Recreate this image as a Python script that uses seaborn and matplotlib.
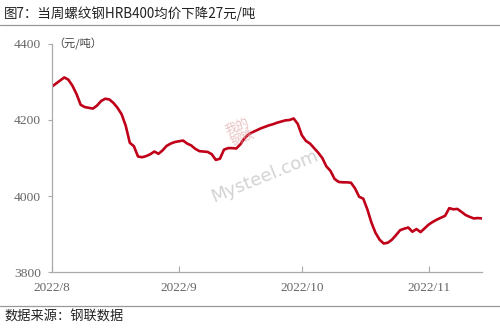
import matplotlib
matplotlib.use("Agg")
import matplotlib.pyplot as plt
import seaborn as sns
import pandas as pd

# ---- data ----
start_date = "2022-08-01"
price = [4288, 4296, 4304, 4312, 4306, 4290, 4268, 4240, 4234, 4232,
         4230, 4238, 4250, 4256, 4254, 4245, 4232, 4215, 4185, 4140,
         4131, 4104, 4102, 4105, 4110, 4117, 4111, 4120, 4132, 4138,
         4142, 4144, 4146, 4138, 4133, 4124, 4118, 4117, 4116, 4110,
         4095, 4098, 4122, 4126, 4126, 4125, 4136, 4152, 4162, 4168,
         4173, 4178, 4182, 4186, 4189, 4193, 4196, 4199, 4200, 4204,
         4190, 4160, 4145, 4138, 4126, 4114, 4100, 4078, 4066, 4045,
         4037, 4036, 4036, 4035, 4020, 3998, 3993, 3965, 3930, 3903,
         3885, 3875, 3877, 3885, 3897, 3910, 3914, 3917, 3906, 3913,
         3905, 3915, 3925, 3932, 3938, 3943, 3948, 3968, 3965, 3966,
         3958, 3950, 3945, 3941, 3942, 3941, 3940]
x_ticks = ["2022-08-01", "2022-09-01", "2022-10-01", "2022-11-01"]
x_ticklabels = ["2022/8", "2022/9", "2022/10", "2022/11"]
y_ticks = [3800, 4000, 4200, 4400]
title = "图7：当周螺纹钢HRB400均价下降27元/吨"
unit = "（元/吨）"
source = "数据来源：钢联数据"

dates = pd.date_range(start_date, periods=len(price), freq="D")
df = pd.DataFrame({"date": dates, "price": price})

sns.set_theme(style="white")
plt.rcParams["font.family"] = ["Noto Sans CJK SC", "DejaVu Sans"]

fig = plt.figure(figsize=(5, 3.32), dpi=100)
ax = fig.add_axes([0.104, 0.1807, 0.86, 0.6868])

sns.lineplot(data=df, x="date", y="price", ax=ax, color="#C00018",
             linewidth=1.9, legend=False)

ax.set_xlim(pd.Timestamp("2022-08-01"), pd.Timestamp("2022-11-14"))
ax.set_ylim(3800, 4400)
ax.set_yticks(y_ticks)
ax.set_yticklabels([str(v) for v in y_ticks], family="Liberation Serif",
                   fontsize=9.7, color="#666666")
ax.set_xticks([pd.Timestamp(d) for d in x_ticks])
ax.set_xticklabels(x_ticklabels, family="Liberation Serif", fontsize=9.5,
                   color="#666666")
ax.set_xlabel("")
ax.set_ylabel("")

for s in ["top", "right"]:
    ax.spines[s].set_visible(False)
for s in ["left", "bottom"]:
    ax.spines[s].set_color("#AAAAAA")
    ax.spines[s].set_linewidth(0.9)
ax.tick_params(axis="y", direction="out", length=3, width=0.8,
               color="#AAAAAA", pad=5, left=True)
ax.tick_params(axis="x", direction="in", length=4, width=0.8,
               color="#AAAAAA", pad=7, bottom=True)
ax.grid(False)

# unit label
ax.text(0.003, 1.0, unit, transform=ax.transAxes, fontsize=8,
        color="#444444", va="center", ha="left")

# watermark
fig.text(0.53, 0.47, "Mysteel.com", fontsize=13, color="#C8C8C8",
         rotation=22, ha="center", va="center", alpha=0.8,
         family="DejaVu Sans", zorder=0)
fig.text(0.48, 0.60, "我的\n钢铁", fontsize=9, color="#E0A8A8",
         rotation=22, ha="center", va="center", alpha=0.7,
         linespacing=0.9, zorder=0)

# title & source
fig.text(0.008, 1 - 14 / 332, title, fontsize=9.7, color="#222222",
         ha="left", va="center")
fig.add_artist(plt.Line2D([0, 1], [1 - 25 / 332, 1 - 25 / 332],
                          transform=fig.transFigure, color="#999999",
                          linewidth=0.9))
fig.add_artist(plt.Line2D([0, 1], [1 - 306 / 332, 1 - 306 / 332],
                          transform=fig.transFigure, color="#999999",
                          linewidth=0.9))
fig.text(0.008, 1 - 317 / 332, source, fontsize=9.5, color="#222222",
         ha="left", va="center")

fig.savefig("out.png", dpi=100)
